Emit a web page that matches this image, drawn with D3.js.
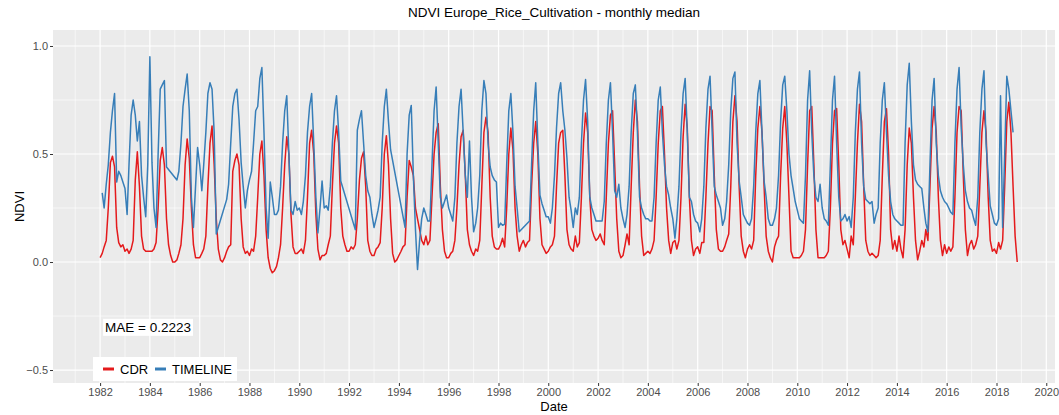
<!DOCTYPE html>
<html>
<head>
<meta charset="utf-8">
<script src="https://cdn.jsdelivr.net/npm/d3@7"></script>
<style>
  body { margin: 0; background: #fff; }
  text { font-family: "Liberation Sans", Arial, sans-serif; }
</style>
</head>
<body>
<div id="chart"></div>
<script>
// monthly medians, Jan 1982 onwards, one row per year (null = no value)
const startYear = 1982;
const seriesNames = ['CDR', 'TIMELINE'];

const cdrNdvi = [
  0.02, 0.04, 0.07, 0.10, 0.25, 0.46, 0.49, 0.44, 0.16, 0.09, 0.07, 0.08,   // 1982
  0.05, 0.06, 0.04, 0.06, 0.10, 0.38, 0.51, 0.35, 0.12, 0.06, 0.05, 0.05,   // 1983
  0.05, 0.05, 0.06, 0.09, 0.25, 0.47, 0.53, 0.45, 0.20, 0.08, 0.03, 0.00,   // 1984
  0.00, 0.01, 0.04, 0.08, 0.20, 0.45, 0.57, 0.48, 0.25, 0.08, 0.02, 0.02,   // 1985
  0.02, 0.04, 0.06, 0.12, 0.35, 0.55, 0.63, 0.45, 0.20, 0.06, 0.01, 0.00,   // 1986
  0.02, 0.05, 0.07, 0.08, 0.42, 0.47, 0.50, 0.45, 0.20, 0.07, 0.04, 0.05,   // 1987
  0.03, 0.06, 0.05, 0.12, 0.30, 0.50, 0.56, 0.40, 0.15, 0.02, -0.03, -0.05, // 1988
  -0.04, -0.02, 0.02, 0.08, 0.25, 0.45, 0.58, 0.50, 0.22, 0.07, 0.04, 0.04, // 1989
  0.05, 0.06, 0.04, 0.10, 0.30, 0.55, 0.61, 0.50, 0.22, 0.06, 0.01, 0.03,   // 1990
  0.03, 0.04, 0.08, 0.12, 0.35, 0.55, 0.63, 0.55, 0.25, 0.12, 0.08, 0.05,   // 1991
  0.05, 0.07, 0.06, 0.08, 0.20, 0.38, 0.48, 0.51, 0.35, 0.10, 0.05, 0.03,   // 1992
  0.03, 0.06, 0.07, 0.09, 0.25, 0.50, 0.585, 0.45, 0.20, 0.04, 0.00, 0.01,  // 1993
  0.03, 0.05, 0.07, 0.08, 0.30, 0.47, 0.44, 0.40, 0.25, 0.20, 0.15, 0.10,   // 1994
  0.08, 0.12, 0.08, 0.10, 0.30, 0.50, 0.60, 0.64, 0.35, 0.15, 0.05, 0.02,   // 1995
  0.02, 0.04, 0.05, 0.10, 0.25, 0.45, 0.58, 0.61, 0.40, 0.15, 0.08, 0.05,   // 1996
  0.03, 0.06, 0.05, 0.10, 0.35, 0.60, 0.67, 0.60, 0.30, 0.12, 0.07, 0.06,   // 1997
  0.06, 0.08, 0.11, 0.07, 0.25, 0.50, 0.62, 0.52, 0.25, 0.12, 0.05, 0.08,   // 1998
  0.10, 0.07, 0.09, 0.10, 0.35, 0.55, 0.65, 0.50, 0.20, 0.08, 0.06, 0.04,   // 1999
  0.05, 0.07, 0.08, 0.12, 0.35, 0.55, 0.60, 0.61, 0.40, 0.15, 0.08, 0.06,   // 2000
  0.05, 0.12, 0.07, 0.09, 0.30, 0.55, 0.69, 0.60, 0.30, 0.15, 0.12, 0.10,   // 2001
  0.11, 0.13, 0.10, 0.08, 0.30, 0.55, 0.68, 0.70, 0.45, 0.20, 0.05, 0.02,   // 2002
  0.03, 0.08, 0.13, 0.08, 0.35, 0.60, 0.75, 0.65, 0.35, 0.12, 0.03, 0.04,   // 2003
  0.05, 0.04, 0.06, 0.10, 0.30, 0.55, 0.70, 0.72, 0.50, 0.25, 0.10, 0.04,   // 2004
  0.09, 0.10, 0.06, 0.10, 0.30, 0.58, 0.73, 0.62, 0.30, 0.10, 0.03, 0.06,   // 2005
  0.07, 0.04, 0.09, 0.09, 0.30, 0.55, 0.72, 0.70, 0.40, 0.15, 0.06, 0.05,   // 2006
  0.05, 0.07, 0.10, 0.13, 0.35, 0.65, 0.77, 0.65, 0.35, 0.12, 0.05, 0.02,   // 2007
  0.06, 0.08, 0.06, 0.10, 0.40, 0.62, 0.72, 0.60, 0.35, 0.12, 0.05, 0.02,   // 2008
  0.00, 0.07, 0.10, 0.12, 0.40, 0.62, 0.72, 0.55, 0.30, 0.05, 0.02, 0.02,   // 2009
  0.02, 0.02, 0.03, 0.05, 0.15, 0.45, 0.70, 0.72, 0.45, 0.15, 0.02, 0.02,   // 2010
  0.02, 0.02, 0.03, 0.05, 0.25, 0.55, 0.70, 0.71, 0.45, 0.15, 0.08, 0.10,   // 2011
  0.06, 0.02, 0.12, 0.08, 0.30, 0.55, 0.73, 0.65, 0.35, 0.10, 0.05, 0.03,   // 2012
  0.04, 0.03, 0.02, 0.03, 0.10, 0.40, 0.65, 0.71, 0.50, 0.15, 0.06, 0.10,   // 2013
  0.05, 0.12, 0.06, 0.02, 0.15, 0.45, 0.62, 0.55, 0.30, 0.10, 0.01, 0.05,   // 2014
  0.10, 0.07, 0.15, 0.10, 0.35, 0.62, 0.72, 0.60, 0.30, 0.10, 0.03, 0.08,   // 2015
  0.04, 0.07, 0.05, 0.07, 0.30, 0.60, 0.72, 0.70, 0.40, 0.15, 0.03, 0.08,   // 2016
  0.10, 0.06, 0.08, 0.12, 0.35, 0.60, 0.70, 0.60, 0.30, 0.10, 0.05, 0.06,   // 2017
  0.04, 0.09, 0.06, 0.10, 0.35, 0.65, 0.74, 0.60, 0.35, 0.12, 0.00, null    // 2018
];

const timelineNdvi = [
  null, 0.32, 0.25, 0.36, 0.45, 0.60, 0.70, 0.78, 0.37, 0.42, 0.40, 0.37,   // 1982
  0.34, 0.22, 0.45, 0.68, 0.75, 0.68, 0.56, 0.65, 0.40, 0.30, 0.21, 0.45,   // 1983
  0.95, 0.46, 0.25, 0.16, 0.50, 0.80, 0.82, 0.84, 0.44, null, null, null,   // 1984
  null, 0.38, 0.42, 0.55, 0.72, 0.80, 0.87, 0.70, 0.30, 0.16, 0.35, 0.53,   // 1985
  0.45, 0.33, 0.45, 0.60, 0.78, 0.83, 0.80, 0.60, 0.13, null, null, null,   // 1986
  null, 0.29, 0.36, 0.55, 0.72, 0.78, 0.80, 0.66, 0.46, 0.35, 0.25, 0.33,   // 1987
  0.38, 0.42, 0.55, 0.70, 0.72, 0.85, 0.90, 0.60, 0.25, 0.11, 0.37, 0.30,   // 1988
  0.22, 0.22, 0.24, 0.35, 0.55, 0.70, 0.77, 0.50, 0.24, 0.22, 0.28, 0.24,   // 1989
  0.25, 0.22, 0.28, 0.40, 0.60, 0.72, 0.78, 0.55, 0.30, 0.135, 0.25, 0.375, // 1990
  0.25, 0.26, 0.24, 0.35, 0.55, 0.70, 0.77, 0.60, 0.375, null, null, null,  // 1991
  null, null, null, 0.15, 0.61, 0.66, 0.70, 0.55, 0.40, 0.33, 0.30, 0.22,   // 1992
  0.16, 0.20, 0.24, 0.30, 0.55, 0.72, 0.80, 0.65, 0.52, null, null, null,   // 1993
  null, null, null, 0.16, 0.50, 0.68, 0.725, 0.40, 0.15, -0.035, 0.10, 0.20, // 1994
  0.25, 0.22, 0.19, 0.19, 0.45, 0.70, 0.81, 0.55, 0.30, 0.25, 0.28, 0.31,   // 1995
  0.25, 0.22, 0.19, 0.30, 0.55, 0.72, 0.80, 0.60, 0.40, 0.30, 0.56, 0.30,   // 1996
  0.14, 0.18, 0.25, 0.40, 0.70, 0.84, 0.78, 0.55, 0.44, 0.40, 0.38, 0.37,   // 1997
  0.16, 0.18, 0.17, 0.175, 0.45, 0.70, 0.78, 0.60, 0.35, 0.25, 0.14, null,  // 1998
  null, null, null, 0.19, 0.45, 0.70, 0.83, 0.55, 0.31, 0.27, 0.24, 0.21,   // 1999
  0.21, 0.18, 0.25, 0.40, 0.62, 0.78, 0.83, 0.70, 0.61, 0.48, 0.30, 0.24,   // 2000
  0.16, 0.25, 0.22, 0.30, 0.55, 0.75, 0.845, 0.65, 0.30, 0.25, 0.22, 0.19,  // 2001
  0.19, 0.19, 0.19, 0.28, 0.55, 0.75, 0.83, 0.60, 0.33, 0.30, 0.36, 0.25,   // 2002
  0.20, 0.16, 0.22, 0.35, 0.60, 0.78, 0.82, 0.60, 0.30, 0.25, 0.22, 0.20,   // 2003
  0.20, 0.19, 0.19, 0.30, 0.55, 0.75, 0.81, 0.60, 0.45, 0.35, 0.31, 0.25,   // 2004
  0.20, 0.11, 0.20, 0.35, 0.60, 0.78, 0.85, 0.60, 0.30, 0.28, 0.22, 0.19,   // 2005
  0.18, 0.14, 0.20, 0.35, 0.62, 0.80, 0.86, 0.60, 0.35, 0.31, 0.28, 0.25,   // 2006
  0.17, 0.20, 0.28, 0.45, 0.70, 0.85, 0.88, 0.55, 0.375, 0.30, 0.22, 0.20,  // 2007
  0.18, 0.17, 0.20, 0.35, 0.60, 0.78, 0.84, 0.60, 0.375, 0.30, 0.20, 0.17,  // 2008
  0.17, 0.20, 0.25, 0.40, 0.65, 0.82, 0.86, 0.70, 0.50, 0.40, 0.34, 0.28,   // 2009
  0.24, 0.20, 0.19, 0.18, 0.40, 0.75, 0.885, 0.60, 0.40, 0.30, 0.28, 0.36,  // 2010
  0.25, 0.20, 0.19, 0.17, 0.45, 0.75, 0.86, 0.55, 0.30, 0.19, 0.20, 0.22,   // 2011
  0.19, 0.21, 0.16, 0.30, 0.60, 0.80, 0.88, 0.55, 0.35, 0.29, 0.28, 0.27,   // 2012
  0.28, 0.18, 0.22, 0.25, 0.55, 0.75, 0.83, 0.60, 0.40, 0.28, 0.22, 0.20,   // 2013
  0.19, 0.18, 0.17, 0.17, 0.55, 0.82, 0.92, 0.65, 0.45, 0.38, 0.36, 0.35,   // 2014
  0.34, 0.25, 0.18, 0.14, 0.45, 0.75, 0.85, 0.55, 0.40, 0.33, 0.30, 0.28,   // 2015
  0.27, 0.25, 0.23, 0.22, 0.55, 0.80, 0.90, 0.62, 0.45, 0.33, 0.28, 0.25,   // 2016
  0.24, 0.20, 0.17, 0.30, 0.60, 0.80, 0.885, 0.55, 0.40, 0.26, 0.22, 0.18,  // 2017
  0.17, 0.20, 0.77, 0.16, 0.50, 0.86, 0.80, 0.70, 0.60, null, null, null    // 2018
];

const yTicks = [-0.5, 0.0, 0.5, 1.0];
const yMinorTicks = [-0.25, 0.25, 0.75];
const xTickYears = [1982, 1984, 1986, 1988, 1990, 1992, 1994, 1996, 1998, 2000,
                    2002, 2004, 2006, 2008, 2010, 2012, 2014, 2016, 2018, 2020];
const xMinorYears = [1981, 1983, 1985, 1987, 1989, 1991, 1993, 1995, 1997, 1999,
                     2001, 2003, 2005, 2007, 2009, 2011, 2013, 2015, 2017, 2019];
const titleText = 'NDVI Europe_Rice_Cultivation - monthly median';
const maeText = 'MAE = 0.2223';

const colors = { CDR: '#E41A1C', TIMELINE: '#377EB8' };

class Chart {

    constructor(opts) {
        this.series = opts.series;
        this.element = opts.element;
        this.draw();
    }

    draw() {
        this.width = 1059;
        this.height = 415;
        this.margin = { top: 30, right: 4, bottom: 32, left: 53 };
        this.pw = this.width - this.margin.left - this.margin.right;
        this.ph = this.height - this.margin.top - this.margin.bottom;

        this.element.innerHTML = '';
        this.svg = d3.select(this.element).append('svg')
            .attr('width', this.width)
            .attr('height', this.height);

        this.svg.append('rect')
            .attr('width', this.width).attr('height', this.height)
            .attr('fill', '#fff');

        this.plot = this.svg.append('g')
            .attr('transform', `translate(${this.margin.left},${this.margin.top})`);

        this.createScales();
        this.addPanel();
        this.addAxes();
        this.addLines();
        this.addLabels();
        this.addLegend();
    }

    createScales() {
        // ggplot style padding around the data range
        this.xScale = d3.scaleTime()
            .domain([new Date(1980, 1, 10), new Date(2020, 4, 8)])
            .range([0, this.pw]);

        this.yScale = d3.scaleLinear()
            .domain([-0.56, 1.074])
            .range([this.ph, 0]);
    }

    addPanel() {
        const x = this.xScale, y = this.yScale;

        this.plot.append('rect')
            .attr('width', this.pw).attr('height', this.ph)
            .attr('fill', '#EBEBEB');

        const grid = this.plot.append('g');
        grid.selectAll('.yminor').data(yMinorTicks).enter().append('line')
            .attr('x1', 0).attr('x2', this.pw)
            .attr('y1', d => y(d)).attr('y2', d => y(d))
            .attr('stroke', '#fff').attr('stroke-width', 0.6);
        grid.selectAll('.xminor').data(xMinorYears).enter().append('line')
            .attr('x1', d => x(new Date(d, 0, 1))).attr('x2', d => x(new Date(d, 0, 1)))
            .attr('y1', 0).attr('y2', this.ph)
            .attr('stroke', '#fff').attr('stroke-width', 0.6);
        grid.selectAll('.ymajor').data(yTicks).enter().append('line')
            .attr('x1', 0).attr('x2', this.pw)
            .attr('y1', d => y(d)).attr('y2', d => y(d))
            .attr('stroke', '#fff').attr('stroke-width', 1.2);
        grid.selectAll('.xmajor').data(xTickYears).enter().append('line')
            .attr('x1', d => x(new Date(d, 0, 1))).attr('x2', d => x(new Date(d, 0, 1)))
            .attr('y1', 0).attr('y2', this.ph)
            .attr('stroke', '#fff').attr('stroke-width', 1.2);
    }

    addAxes() {
        const xAxis = d3.axisBottom(this.xScale)
            .tickValues(xTickYears.map(d => new Date(d, 0, 1)))
            .tickFormat(d3.timeFormat('%Y'))
            .tickSize(3).tickPadding(2);

        const yAxis = d3.axisLeft(this.yScale)
            .tickValues(yTicks)
            .tickFormat(d3.format('.1f'))
            .tickSize(3).tickPadding(2);

        const gx = this.plot.append('g')
            .attr('transform', `translate(0,${this.ph})`)
            .call(xAxis);
        const gy = this.plot.append('g').call(yAxis);

        [gx, gy].forEach(g => {
            g.select('.domain').remove();
            g.selectAll('.tick line').attr('stroke', '#333');
            g.selectAll('.tick text')
                .attr('fill', '#4D4D4D')
                .style('font-size', '11px')
                .style('font-family', '"Liberation Sans", Arial, sans-serif');
        });
    }

    addLines() {
        const line = d3.line()
            .x(d => this.xScale(d.date))
            .y(d => this.yScale(d.value));

        this.series.forEach(s => {
            // drop the missing months, the line just bridges them
            const pts = s.values
                .map((v, i) => ({ date: new Date(startYear + Math.floor(i / 12), i % 12, 1), value: v }))
                .filter(d => d.value !== null);
            this.plot.append('path')
                .datum(pts)
                .attr('d', line)
                .attr('fill', 'none')
                .attr('stroke', colors[s.name])
                .attr('stroke-width', 1.5)
                .attr('stroke-linejoin', 'round');
        });
    }

    addLabels() {
        const cx = this.margin.left + this.pw / 2;

        this.svg.append('text')
            .attr('x', cx).attr('y', 17)
            .attr('text-anchor', 'middle')
            .style('font-size', '13.5px')
            .text(titleText);

        this.svg.append('text')
            .attr('x', cx).attr('y', 411)
            .attr('text-anchor', 'middle')
            .style('font-size', '13px')
            .text('Date');

        this.svg.append('text')
            .attr('transform', `translate(24,${this.margin.top + this.ph / 2}) rotate(-90)`)
            .attr('text-anchor', 'middle')
            .style('font-size', '13px')
            .text('NDVI');

        // MAE annotation, white label box
        const mae = this.plot.append('g')
            .attr('transform', `translate(${this.xScale(new Date(1982, 0, 1)) + 2},${this.yScale(-0.3)})`);
        const t = mae.append('text')
            .attr('x', 3).attr('y', 5)
            .style('font-size', '13.5px')
            .text(maeText);
        const bb = t.node().getBBox();
        mae.insert('rect', 'text')
            .attr('x', bb.x - 2).attr('y', bb.y - 1)
            .attr('width', bb.width + 4).attr('height', bb.height + 2)
            .attr('fill', '#fff');
    }

    addLegend() {
        const lg = this.svg.append('g')
            .attr('transform', 'translate(93,357)');
        lg.append('rect')
            .attr('width', 144).attr('height', 24)
            .attr('fill', '#fff');

        const keyX = [10, 62];
        seriesNames.forEach((name, i) => {
            lg.append('line')
                .attr('x1', keyX[i]).attr('x2', keyX[i] + 11)
                .attr('y1', 12).attr('y2', 12)
                .attr('stroke', colors[name]).attr('stroke-width', 3);
            lg.append('text')
                .attr('x', keyX[i] + 17).attr('y', 16.5)
                .style('font-size', '13px')
                .text(name);
        });
    }
}

new Chart({
    element: document.getElementById('chart'),
    series: [
        { name: 'CDR', values: cdrNdvi },
        { name: 'TIMELINE', values: timelineNdvi }
    ]
});
</script>
</body>
</html>
